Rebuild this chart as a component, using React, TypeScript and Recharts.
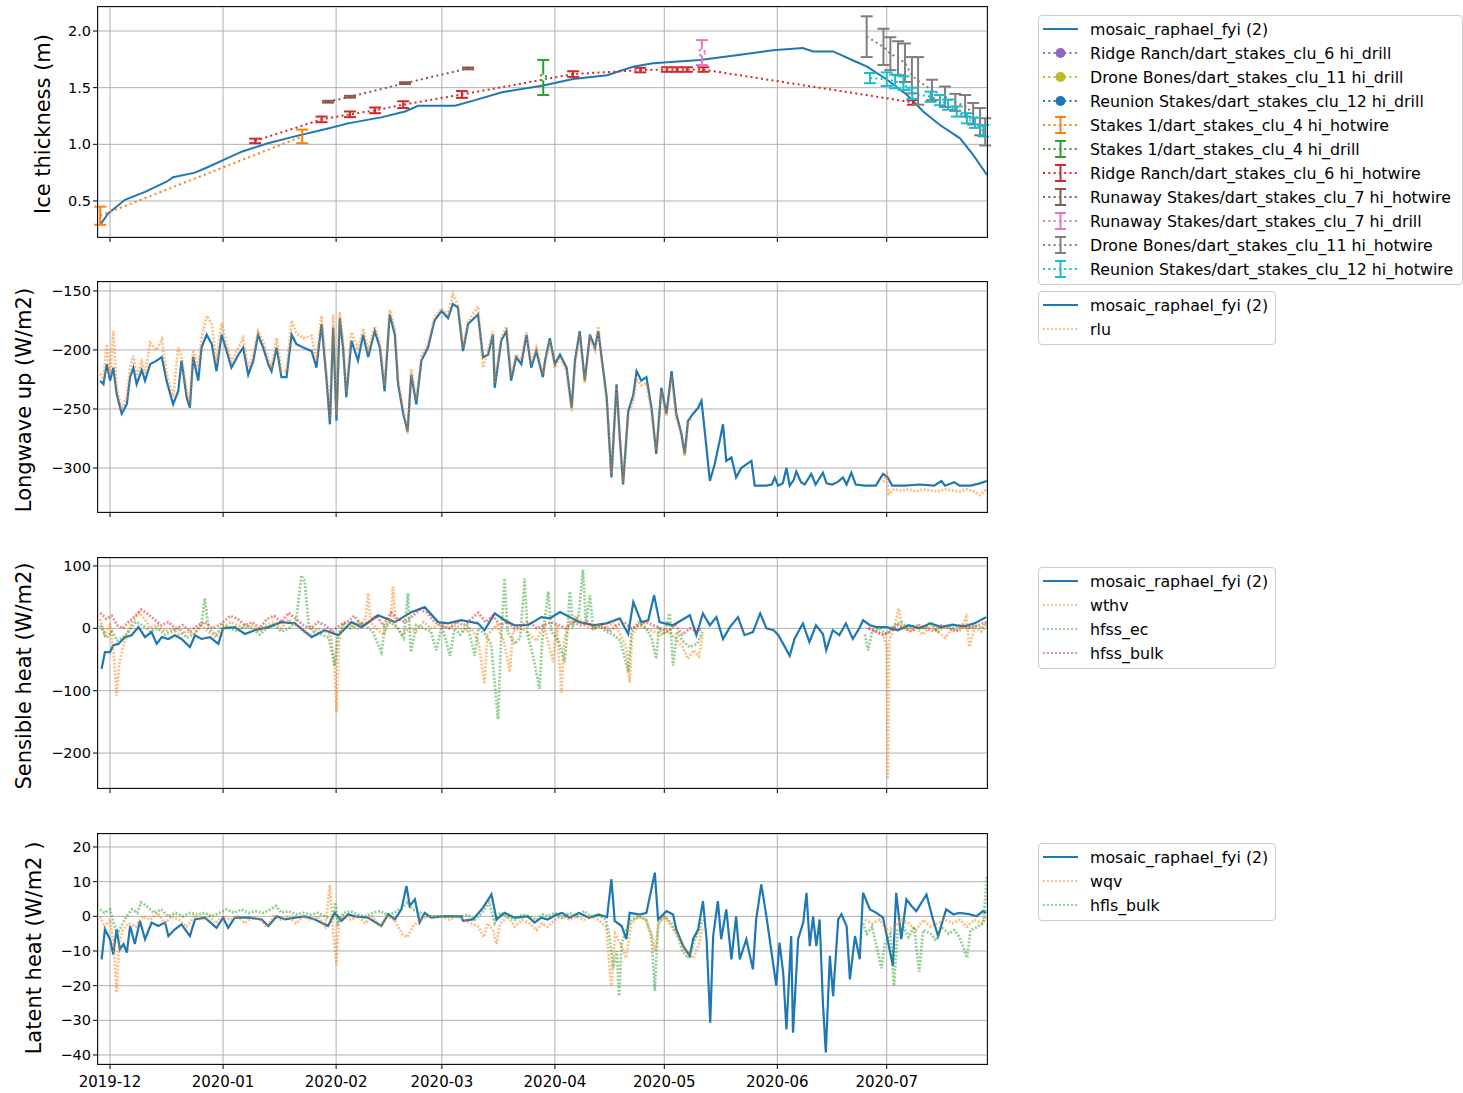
import type { ReactNode } from "react";
import { CartesianGrid, ComposedChart, ErrorBar, Line, XAxis, YAxis } from "recharts";

// x = days since 2019-12-01
type Pt = [number, number | null];
type ErrPt = [number, number, number];

const X_DOMAIN: [number, number] = [-3.3, 240.5];
const MONTH_TICKS = [0, 31, 62, 91, 122, 152, 183, 213];
const MONTH_LABELS = ["2019-12", "2020-01", "2020-02", "2020-03", "2020-04", "2020-05", "2020-06", "2020-07"];

// ---- panel 1: ice thickness (m)
const ICE_MODEL: Pt[] = [
  [-2.7, 0.29], [-0.5, 0.39], [4.1, 0.51], [9.6, 0.58], [15.5, 0.67], [17.3, 0.71], [23.3, 0.75], [26.9, 0.8],
  [31, 0.86], [36.1, 0.935], [43.3, 1.01], [50.7, 1.07], [59.8, 1.14], [65.3, 1.185], [74.6, 1.24], [80.9, 1.29],
  [84.5, 1.34], [94.6, 1.34], [100.1, 1.39], [107.5, 1.46], [118.8, 1.52], [127, 1.576], [136.3, 1.61],
  [143.4, 1.685], [148.9, 1.715], [161.8, 1.744], [172.8, 1.79], [181.8, 1.83], [190, 1.85], [192.8, 1.82],
  [198.3, 1.82], [203.8, 1.74], [207.6, 1.685], [213.1, 1.57], [218.6, 1.435], [223, 1.29], [227.6, 1.17],
  [233.1, 1.053], [236.7, 0.906], [240.5, 0.73],
];
const STAKES1_HOTWIRE: ErrPt[] = [[-2.7, 0.37, 0.08], [52.7, 1.07, 0.06]];
const STAKES1_DRILL: ErrPt[] = [[118.8, 1.59, 0.155]];
const RIDGE_HOTWIRE: ErrPt[] = [
  [39.8, 1.03, 0.02], [58, 1.22, 0.025], [65.8, 1.265, 0.025], [72.7, 1.3, 0.025], [80.4, 1.35, 0.03],
  [96.5, 1.44, 0.03], [127, 1.62, 0.025], [145.4, 1.655, 0.02], [152.7, 1.66, 0.02], [155.4, 1.66, 0.02],
  [158.2, 1.66, 0.02], [162.7, 1.66, 0.02], [220.2, 1.37, 0.02],
];
const RUNAWAY_HOTWIRE: ErrPt[] = [[59.8, 1.376, 0.008], [65.8, 1.42, 0.008], [80.9, 1.54, 0.008], [98.2, 1.67, 0.008]];
const RUNAWAY_DRILL: ErrPt[] = [[162.3, 1.81, 0.11]];
const DRONE_HOTWIRE: ErrPt[] = [
  [207.5, 1.95, 0.18], [212.1, 1.86, 0.16], [214, 1.8, 0.145], [216.1, 1.76, 0.15], [218, 1.72, 0.17],
  [219.9, 1.61, 0.16], [221.6, 1.56, 0.21], [225.4, 1.48, 0.09], [229, 1.42, 0.09], [231.8, 1.37, 0.075],
  [234.5, 1.34, 0.095], [236.7, 1.27, 0.095], [238.6, 1.2, 0.12], [240, 1.11, 0.12],
];
const REUNION_HOTWIRE: ErrPt[] = [
  [208.4, 1.585, 0.045], [213, 1.575, 0.06], [215.3, 1.555, 0.06], [217.6, 1.54, 0.06], [220, 1.45, 0.05],
  [225, 1.42, 0.045], [227.6, 1.39, 0.045], [229.8, 1.35, 0.045], [232.2, 1.29, 0.045], [235, 1.23, 0.045],
  [237.2, 1.19, 0.045], [239.5, 1.12, 0.05],
];

// ---- panel 2: longwave up (W/m2)
const LW_MODEL: Pt[] = [
  [-2.7, -226], [-1.8, -229], [-0.9, -212], [0, -226], [0.9, -215], [1.8, -237], [3.2, -254], [4.6, -246],
  [5.5, -223], [6.4, -215], [7.3, -229], [8.7, -217], [9.6, -226], [11, -212], [12.8, -209], [14.2, -206],
  [15.5, -226], [17.3, -246], [18.7, -235], [19.6, -209], [21, -240], [21.9, -249], [22.8, -206], [24.2, -226],
  [25.1, -198], [26.5, -187], [27.9, -195], [29.2, -218], [30.6, -187], [32, -201], [33.3, -215], [35.2, -204],
  [36.5, -198], [37.9, -221], [39.3, -209], [40.6, -187], [42, -198], [43.4, -212], [44.3, -218], [45.7, -198],
  [47, -223], [48.4, -223], [49.8, -187], [51.1, -195], [53, -198], [55.3, -201], [56.6, -215], [58, -178],
  [59.4, -226], [60.3, -263], [61.2, -181], [62.1, -260], [63, -173], [63.9, -198], [64.8, -240], [66.2, -192],
  [68, -209], [69.4, -187], [70.8, -206], [72.6, -184], [74, -198], [75.3, -235], [76.7, -170], [78.1, -187],
  [79, -229], [80.4, -254], [81.6, -269], [82.6, -221], [84, -246], [85.4, -209], [87.2, -198], [89, -175],
  [90.9, -167], [92.7, -173], [94, -161], [95.4, -164], [96.8, -201], [98.2, -178], [100.9, -170], [102.3, -206],
  [103.7, -204], [105, -187], [105.5, -232], [107.3, -192], [108.7, -184], [110, -226], [111.4, -206],
  [112.8, -212], [114.2, -187], [115.5, -215], [116.9, -201], [118.7, -223], [119.3, -209], [120.6, -190],
  [122, -212], [123.4, -204], [125.2, -215], [126.6, -249], [127.5, -209], [128.8, -184], [130.2, -226],
  [131.6, -187], [133, -198], [133.9, -184], [134.8, -206], [136.2, -240], [137.5, -308], [138.9, -229],
  [139.8, -274], [140.7, -314], [142.1, -252], [143.5, -238], [144.4, -218], [145.7, -226], [147.1, -223],
  [148.5, -249], [149.8, -288], [151.2, -232], [152.6, -254], [154, -218], [155.3, -254], [156.7, -271],
  [157.6, -288], [158.5, -260], [159.9, -254], [161.3, -249], [162.2, -243], [163.1, -269], [164.5, -311],
  [165.8, -297], [167.2, -277], [168.1, -263], [169, -294], [170.4, -291], [171.7, -308], [173.1, -300],
  [174.5, -297], [175.9, -294], [176.8, -315], [180, -315], [181.5, -314], [182.3, -308], [183.2, -315],
  [184.5, -313], [185.5, -300], [186.4, -315], [187.5, -310], [188.2, -303], [189.5, -312], [190.5, -314],
  [192.3, -305], [193.5, -314], [195.5, -304], [196.5, -313], [198, -314], [199.5, -312], [201, -308],
  [202, -314], [203.3, -304], [204.5, -314], [207, -315], [210, -315], [212, -305], [213.3, -308], [214.5, -315],
  [218, -315], [222, -314], [226, -315], [228, -311], [229, -315], [231.5, -312], [233, -315], [236, -315],
  [238.5, -313], [240.5, -311],
];
const RLU: Pt[] = [
  [-2.7, -220], [-1.8, -225], [-0.9, -195], [0, -222], [0.9, -184], [1.8, -232], [3.2, -250], [4.6, -240],
  [5.5, -215], [6.4, -205], [7.3, -222], [8.7, -210], [9.6, -220], [11, -194], [12.8, -200], [14.2, -191],
  [15.5, -220], [17.3, -240], [18.7, -198], [19.6, -205], [21, -235], [21.9, -245], [22.8, -200], [24.2, -215],
  [25.1, -190], [26.5, -171], [27.9, -178], [29.2, -212], [30.6, -177], [32, -195], [33.3, -210], [35.2, -198],
  [36.5, -190], [37.9, -215], [39.3, -204], [40.6, -184], [42, -192], [43.4, -208], [44.3, -214], [45.7, -190],
  [47, -218], [48.4, -218], [49.8, -175], [51.1, -186], [53, -190], [55.3, -188], [56.6, -210], [58, -171],
  [59.4, -222], [60.3, -258], [61.2, -170], [62.1, -255], [63, -168], [63.9, -192], [64.8, -236], [66.2, -185],
  [68, -200], [69.4, -182], [70.8, -200], [72.6, -180], [74, -194], [75.3, -230], [76.7, -166], [78.1, -182],
  [79, -226], [80.4, -250], [81.6, -271], [82.6, -216], [84, -242], [85.4, -205], [87.2, -195], [89, -172],
  [90.9, -165], [92.7, -170], [94, -153], [95.4, -162], [96.8, -198], [98.2, -176], [100.9, -163], [102.3, -215],
  [103.7, -200], [105, -184], [105.5, -228], [107.3, -190], [108.7, -180], [110, -222], [111.4, -204],
  [112.8, -208], [114.2, -185], [115.5, -212], [116.9, -198], [118.7, -220], [120.6, -192], [122, -215],
  [123.4, -206], [125.2, -218], [126.6, -252], [127.5, -212], [128.8, -186], [130.2, -228], [131.6, -190],
  [133, -200], [133.9, -180], [134.8, -208], [136.2, -242], [137.5, -305], [138.9, -232], [139.8, -276],
  [140.7, -312], [142.1, -255], [143.5, -243], [144.4, -225], [145.7, -230], [147.1, -228], [148.5, -252],
  [149.8, -285], [151.2, -235], [152.6, -256], [154, -222], [155.3, -258], [156.7, -272], [157.6, -290],
  [158.5, -262], [159.5, -258], [185, null], [212, -312], [213, -306], [213.5, -322], [215, -318], [217, -319],
  [219, -318], [221, -320], [223, -318], [225, -319], [227, -320], [229, -318], [231, -319], [233, -320],
  [235, -318], [237, -320], [238.5, -323], [240.5, -318],
];

// ---- panel 3: sensible heat (W/m2)
const SENS_MODEL: Pt[] = [
  [-2.3, -65], [-1.4, -38], [0, -38], [0.9, -27], [2.3, -25], [4.1, -14], [5.9, -11], [7.8, 2], [9.6, -14],
  [11.4, -6], [12.8, -25], [14.2, -14], [16, -17], [17.8, -11], [19.6, -17], [21.9, -30], [23.3, -11],
  [25.1, -17], [27.4, -14], [29.7, -25], [31, 0], [34.2, 2], [37, -9], [39.7, -3], [43.4, 2], [47, 10],
  [50.7, 8], [55.3, -14], [58.9, -3], [62.6, -11], [66.2, 10], [69, 2], [73.5, 21], [78.1, 10], [82.6, 26],
  [86.3, 34], [90, 10], [92.7, 8], [96.3, 13], [100.9, 8], [102.7, -3], [105.5, 24], [108.2, 13], [110.9, 5],
  [114.6, 5], [118.3, 18], [120.6, 16], [123.4, 26], [126.1, 18], [128.8, 10], [132.5, 5], [136.2, 8],
  [139.8, 16], [142.1, -9], [143.5, 42], [145.7, 10], [147.6, 13], [149.2, 53], [150.7, 10], [154.4, 5],
  [159, 21], [160.8, -11], [162.6, 24], [164.5, 5], [166.3, 18], [168.1, -17], [170, 2], [172.2, 18],
  [174, -11], [176.3, -6], [178.3, 24], [180, 0], [182, -3], [183.3, -11], [186.4, -44], [187.7, -17],
  [190, 8], [191.8, -22], [193.6, 5], [195.5, -9], [196.4, -35], [198.2, -3], [200, -11], [201.8, 8],
  [203.7, -17], [205.5, 0], [206.5, 13], [208.4, 5], [210.2, 2], [213, 2], [216, -3], [219, 5], [222, 0],
  [225, 8], [228, 2], [231, 6], [234, 3], [237, 8], [240.3, 18],
];
const WTHV: Pt[] = [
  [-2.7, 15], [-1.5, -10], [0, 5], [1, -40], [1.8, -108], [2.5, -60], [3.5, -30], [4.5, -15], [6, 10], [8, 25],
  [9.5, 15], [11, 0], [13, 5], [15, -5], [17, 0], [19, -10], [21, -5], [23, -10], [25, 5], [27, -5], [29, -15],
  [31, 0], [33, 10], [35, 5], [37, 0], [39, 5], [41, -5], [43, 5], [45, 10], [47, 0], [49, 15], [51, 5],
  [53, -5], [55, -10], [57, 0], [59, -5], [60.5, -10], [61.5, -50], [62.1, -135], [62.8, -20], [64, 10],
  [66, 5], [68, 0], [70, 15], [70.8, 56], [71.5, 10], [73, 0], [75, -10], [77, 15], [77.6, 67], [78.3, 5],
  [80, -10], [82, 0], [84, -5], [86, 10], [88, 0], [90, 5], [93, 0], [95, 5], [97, -5], [99, 0], [101, -20],
  [102.7, -89], [103.5, -10], [106, 5], [108, -20], [109.6, -70], [110.5, -5], [113, 0], [115, -10],
  [117, -20], [119, 5], [121.5, -54], [122.5, 5], [123.8, -103], [124.5, -20], [126, 10], [128, 20], [130, 5],
  [132, 0], [134, 5], [136, 0], [138, 10], [140, -10], [141.5, -30], [142.5, -87], [143.2, -10], [145, 5],
  [147, 0], [149, -5], [151, -10], [153, -5], [155, -15], [157, -30], [158.5, -49], [160, -35], [161.5, -45],
  [162.5, -10], [185, null], [208, 0], [210, -5], [212, -10], [213, -30], [213.3, -242], [213.7, -20],
  [215, 0], [216.3, 32], [217, 5], [219, -5], [221, 0], [223, -10], [225, 5], [227, -5], [229, -15], [231, 0],
  [233, -5], [234.8, 18], [235.7, -30], [237, 0], [239, -5], [240.5, 5],
];
const HFSS_EC: Pt[] = [
  [-2.7, 5], [-1, -15], [0.5, -5], [2, -20], [3.5, -15], [5, -5], [7, 10], [9, 5], [11, -5], [13, 0], [15, -10],
  [17, -5], [19, 0], [21, -15], [23, -10], [25, 5], [26, 48], [27, 0], [29, -10], [31, 5], [33, 0], [35, -5],
  [37, 5], [39, 0], [41, -10], [43, 0], [45, 5], [47, -5], [49, 0], [51, 10], [52.5, 85], [53.4, 75],
  [54.5, 5], [56, -5], [58, -10], [60, -15], [61.6, -60], [62.5, -10], [64, 5], [66, 0], [68, 10], [70, 5],
  [72, -5], [74.4, -38], [75.5, 5], [77, 10], [79, 0], [80.5, -15], [81.7, 56], [82.5, -38], [84, 5], [86, 0],
  [88, -5], [89.5, -35], [91, 5], [93.2, -44], [94.5, 0], [96, -10], [98, 5], [100, -44], [101, 0], [103, -10],
  [104.5, -25], [106.4, -146], [107.3, -10], [108.2, 80], [109, -5], [111, -25], [112.5, -15], [113.7, 80],
  [114.5, -10], [116, -44], [117.8, -97], [118.5, -20], [120.2, 59], [121, -5], [123, -20], [124.7, -54],
  [125.5, 0], [126.1, 59], [127, 5], [128.5, 20], [129.7, 94], [130.5, 10], [131.6, 53], [132.5, 0], [134, 5],
  [136, -5], [138, -10], [140, -20], [142.1, -70], [143, -5], [145, 10], [147, 0], [148.5, -15], [149.8, -49],
  [150.5, 0], [152, -10], [153.5, 24], [154.4, -60], [155.5, -5], [157, -20], [159, -30], [161, -25],
  [162.5, -5], [185, null], [207, -10], [207.9, -35], [209, -5], [211, 0], [213, -10], [215, 5], [217, 10],
  [219, 0], [221, 5], [223, 0], [225, 10], [227, -5], [229, 5], [231, 0], [233, 5], [235, 0], [237, 5],
  [239, 0], [240.5, 10],
];
const HFSS_BULK: Pt[] = [
  [-2.7, 25], [-1, 15], [0.5, 20], [2, 5], [3.5, 0], [5, 10], [7, 20], [8.5, 30], [10, 25], [12, 15], [14, 5],
  [16, 10], [18, 0], [20, 5], [22, -5], [24, 5], [26, 10], [28, 0], [30, 5], [31, 10], [33, 20], [35, 15],
  [37, 5], [39, 10], [41, 0], [43, 15], [45, 20], [47, 10], [49, 25], [51, 15], [53, 5], [55, 0], [57, 10],
  [59, 5], [61, -5], [63, 5], [65, 10], [67, 20], [69, 5], [71, 10], [73, 20], [75, 5], [77, 25], [79, 15],
  [81, 10], [83, 20], [85, 30], [87, 25], [89, 10], [91, 5], [93, 0], [95, 10], [97, 5], [99, 15], [101, 25],
  [103, 10], [105, 20], [107, 5], [109, 10], [111, 0], [113, 5], [115, 10], [117, 0], [119, 5], [121, 10],
  [123, 5], [125, 0], [127, 10], [129, 5], [131, 10], [133, 0], [135, 5], [137, -5], [139, 5], [141, 10],
  [143, 0], [145, 5], [147, 10], [149, 5], [151, 0], [153, -5], [155, 5], [157, -10], [159, 0], [161, -5],
  [162.5, 0], [185, null], [208, 0], [210, -5], [212, -10], [214, -5], [216, 5], [218, 0], [220, -5], [222, 5],
  [224, 0], [226, -5], [228, 5], [230, 0], [232, -5], [234, 5], [236, 0], [238, 5], [240.5, 10],
];

// ---- panel 4: latent heat (W/m2)
const LAT_MODEL: Pt[] = [
  [-2.3, -12.4], [-1.4, -3.75], [0, -6.6], [0.9, -11], [1.8, -3.75], [2.7, -9.5], [3.7, -8], [4.6, -10.5],
  [5.5, -2.8], [6.8, -8], [8.2, -1.3], [9.6, -6.6], [11.4, -1.8], [13.2, -2.8], [15.1, -1.8], [16, -5.7],
  [17.8, -3.75], [19.6, -2.3], [21.9, -5.7], [23.3, -0.9], [26, -0.4], [29.2, -3.3], [31, -0.4], [32.4, -3.3],
  [34.2, -0.4], [37.9, -0.4], [41.6, -0.9], [43.4, -2.8], [45.7, 0], [48, -0.9], [50.7, -0.4], [53.4, 0],
  [56.2, -0.9], [59.8, -2.8], [61.6, 1], [63.5, -1.3], [65.3, 0.6], [67.1, 0], [70.8, -0.4], [74.4, -2.8],
  [76.3, 0.6], [78.1, -0.9], [79.9, 2], [81.3, 8.75], [82.2, 3], [83.6, 4.9], [84.9, -1.8], [86.3, 1],
  [88.1, -0.4], [90.9, 0], [96.3, 0], [96.8, -1.3], [99.5, -0.9], [102.3, 2.5], [104.6, 6.3], [106, -0.9],
  [108.2, 1], [110.9, -0.4], [114.6, 0], [116.4, -1.8], [118.3, -0.4], [120, -0.9], [122.5, 0.5], [124, 1],
  [126, -0.4], [128.6, 1], [131.3, -0.4], [134, 0.5], [136.3, -0.2], [137.5, 10.7], [138.4, -1.3],
  [140.3, -2.8], [141.6, -6.6], [142.5, 1], [145.3, 0.5], [147.1, 1], [149.4, 12.6], [150.3, -0.9],
  [152.6, 1.5], [154.4, 0.5], [155.3, -3.75], [157.2, -8.6], [159, -11.4], [159.9, -6.6], [161.3, -3.75],
  [162.6, 4.4], [163.6, -6.6], [164.6, -30.7], [165.4, -5.7], [166.7, 4.4], [167.6, -6.6], [169, 2],
  [170.4, -12.4], [171.7, 0], [172.7, -12.4], [174.5, -6.6], [176.3, -15.3], [177.2, -0.9], [178.6, 9.2],
  [180, 0], [180.9, -6.6], [182.7, -20], [183.6, -7.6], [184.6, -16.2], [185.5, -32.6], [186.8, -5.7],
  [187.3, -33.6], [188.7, -6.6], [190.1, -1.8], [191, 6.8], [191.9, -8.6], [192.8, 0], [193.7, -8.6],
  [194.6, -0.9], [195.5, -25], [196.3, -39.3], [197.4, -11.4], [198.3, -23], [199.7, -0.9], [200.6, 0.6],
  [202, -2.8], [202.9, -18.2], [204.3, -5.7], [205.6, -12.4], [206.5, 6.8], [208.4, 2], [210.2, 1],
  [212, -0.4], [213.4, -7.6], [214.7, -14.3], [215.6, 6.8], [217, -6.6], [218.4, 4.9], [219.8, 3],
  [221.1, 1.5], [223.9, 6.3], [225.7, -0.9], [227.1, -5.7], [229.3, 2], [231.2, 0.6], [233.1, 1],
  [235.8, 0.6], [237.6, 0], [239.4, 1.5], [240.3, 1],
];
const WQV: Pt[] = [
  [-2.7, 0], [-1.5, -3], [0, -1], [1, -8], [1.8, -22], [2.5, -8], [3.5, -4], [5, -2], [7, -3], [9, 0], [11, -1],
  [13, 1], [15, -2], [17, 0], [19, -1], [21, -3], [23, 0], [25, -1], [27, 0], [29, -2], [31, 0], [33, -1],
  [35, 0], [37, -2], [39, 0], [41, -1], [43, -3], [45, 0], [47, -1], [49, 0], [51, -2], [53, 0], [55, -1],
  [57, 0], [59, -3], [60.3, 9], [61, -2], [62.1, -14], [62.8, -1], [64, 0], [66, -1], [68, 0], [70, -2],
  [72, 0], [74, -3], [76, 0], [78, -1], [80, -5], [81.5, -6], [83, -3], [85, -1], [87, 0], [89, 0], [91, 0],
  [93, -1], [95, 0], [97, -1], [99, -2], [101, -3], [102.5, -6], [103.5, -2], [105, -4], [106, -8], [107, -2],
  [109, 0], [111, -3], [113, -1], [115, -2], [117, -4], [118.5, -2], [120, -3], [122, -1], [124, 0], [126, -1],
  [128, 0], [130, -1], [132, 0], [134, -1], [136, -3], [137.5, -20], [138.5, -5], [140, -8], [141.5, -12],
  [143, -2], [145, 0], [147, -1], [148.5, -5], [149.5, -10], [150.5, -2], [152, 0], [154, -3], [156, -6],
  [158, -10], [160, -12], [161.5, -8], [162.5, -3], [185, null], [207, -1], [209, -2], [211, -1], [213, -4],
  [215, -3], [217, -1], [219, -2], [221, -4], [223, -1], [225, -3], [227, -2], [229, -1], [231, -2], [233, -1],
  [235, -3], [237, -1], [239, -2], [240.5, 0],
];
const HFLS_BULK: Pt[] = [
  [-2.7, 2], [-1.5, 1], [0, 2], [1, -2], [2, -5], [3, -3], [4.5, 0], [6, 2], [7.5, 1], [8.5, 4], [10, 3],
  [12, 1], [14, 2], [16, 0], [18, 1], [20, 0], [22, 1], [24, 0.5], [26, 1], [28, 0], [30, 1], [32, 2], [34, 1],
  [36, 2], [38, 1], [40, 1.5], [42, 1], [44, 2], [45.5, 3], [47, 1], [49, 1.5], [51, 0.5], [53, 1], [55, 0.5],
  [57, 1], [59, 0], [61, -1], [61.8, 4], [62.5, -2], [64, 1], [66, 1.5], [68, 0.5], [70, 0], [72, 1],
  [74, 1.5], [76, 0.5], [78, 1], [80, 2.5], [81.5, 4], [83, 2], [85, 1], [87, 0], [89, 0], [91, 0], [93, 0],
  [95, 0], [96.5, 0], [98, 0.5], [100, -1], [102, 1], [104, 4], [105.5, -2], [107, 1], [109, 0], [111, -1],
  [113, 0.5], [115, 0], [117, -1], [118.5, 0.5], [120, 0], [122, 1], [124, -0.5], [126, 1], [128, 0],
  [130, 1.5], [132, 0], [134, 0.5], [136, -1], [137, -6], [138, -15], [139, -10], [139.6, -23], [140.3, -8],
  [141.5, -4], [143, -1], [145, 0], [147, -1], [148.5, -6], [149.4, -21.5], [150.3, -2], [152, 0], [154, -2],
  [155.5, -5], [157, -10], [158.5, -12], [160, -8], [161.5, -4], [162.5, -1], [185, null], [206.5, -2],
  [207.5, -5], [209, -3], [210.5, -10], [211.5, -15], [212.5, -8], [214, -5], [215, -20], [216, -4],
  [217.5, -3], [219, -6], [220.5, -3], [221.9, -16], [223, -4], [225, -5], [226.5, -7], [228, -3], [230, -5],
  [231.5, -4], [233, -6], [235, -12], [236, -4], [238, -3], [239.5, -2], [240.5, 11.6],
];

const C = {
  blue: "#1f77b4", orange: "#ff7f0e", green: "#2ca02c", red: "#d62728", purple: "#9467bd",
  brown: "#8c564b", pink: "#e377c2", gray: "#7f7f7f", olive: "#bcbd22", cyan: "#17becf",
};
const FONT = "'DejaVu Sans', 'Liberation Sans', sans-serif";
const DOT = "2 3.3";

const rows = (pts: Pt[]) => pts.map(([d, v]) => ({ d, v }));
const errRows = (pts: ErrPt[]) => pts.map(([d, v, e]) => ({ d, v, e }));
const minus = (v: number, digits = 0) => (v < 0 ? "\u2212" : "") + Math.abs(v).toFixed(digits);

const PLOT_LEFT = 98;
const PLOT_W = 889;
const PLOT_H = 230;

function Panel({ top, domain, ticks, digits = 0, dates = false, children }: {
  top: number;
  domain: [number, number];
  ticks: number[];
  digits?: number;
  dates?: boolean;
  children: ReactNode;
}) {
  return (
    <>
      <div style={{ position: "absolute", left: 0, top: top - 5 }}>
        <ComposedChart width={1000} height={270} margin={{ top: 5, right: 1000 - PLOT_LEFT - PLOT_W, bottom: 0, left: 38 }}>
          <CartesianGrid stroke="#b0b0b0" strokeWidth={1} />
          <XAxis
            type="number"
            dataKey="d"
            domain={X_DOMAIN}
            ticks={MONTH_TICKS}
            allowDataOverflow
            height={35}
            axisLine={false}
            tickSize={5}
            tickMargin={7}
            tickLine={{ stroke: "#000" }}
            tick={{ fill: "#000", fontSize: 15, fontFamily: FONT }}
            // 上面三张图只留刻度线，日期只在最底下一张
            tickFormatter={(v: number) => (dates ? MONTH_LABELS[MONTH_TICKS.indexOf(v)] ?? "" : "")}
          />
          <YAxis
            type="number"
            domain={domain}
            ticks={ticks}
            allowDataOverflow
            width={60}
            axisLine={false}
            tickSize={5}
            tickLine={{ stroke: "#000" }}
            tick={{ fill: "#000", fontSize: 14.5, fontFamily: FONT }}
            tickFormatter={(v: number) => minus(v, digits)}
          />
          {children}
        </ComposedChart>
      </div>
      <div style={{ position: "absolute", left: PLOT_LEFT - 1, top: top - 1, width: PLOT_W + 2, height: PLOT_H + 2, border: "1px solid #111", boxSizing: "border-box", pointerEvents: "none" }} />
    </>
  );
}

function errSeries(key: string, pts: ErrPt[], color: string) {
  return (
    <Line key={key} data={errRows(pts)} dataKey="v" stroke={color} strokeWidth={2} strokeDasharray={DOT} dot={false} isAnimationActive={false}>
      <ErrorBar dataKey="e" width={6} stroke={color} strokeWidth={2} direction="y" />
    </Line>
  );
}

function solid(key: string, pts: Pt[], width = 2.2) {
  return <Line key={key} data={rows(pts)} dataKey="v" stroke={C.blue} strokeWidth={width} dot={false} isAnimationActive={false} />;
}

function faint(key: string, pts: Pt[], color: string) {
  return (
    <Line key={key} data={rows(pts)} dataKey="v" stroke={color} strokeOpacity={0.5} strokeWidth={2.8} strokeDasharray="2 1.6" dot={false} isAnimationActive={false} />
  );
}

type Handle = "line" | "marker" | "err" | "faint";
interface LegendItem { label: string; color: string; kind: Handle }

function HandleIcon({ kind, color }: { kind: Handle; color: string }) {
  return (
    <svg width={51} height={24} style={{ flex: "none" }}>
      {kind === "line" ? <line x1={4} x2={39} y1={12} y2={12} stroke={color} strokeWidth={2} /> : null}
      {kind === "faint" ? <line x1={4} x2={39} y1={12} y2={12} stroke={color} strokeOpacity={0.5} strokeWidth={2} strokeDasharray="2 2" /> : null}
      {kind === "marker" ? (
        <>
          <line x1={4} x2={39} y1={12} y2={12} stroke={color} strokeWidth={2} strokeDasharray={DOT} />
          <circle cx={21.5} cy={12} r={5} fill={color} />
        </>
      ) : null}
      {kind === "err" ? (
        <>
          <line x1={4} x2={39} y1={12} y2={12} stroke={color} strokeWidth={2} strokeDasharray={DOT} />
          <line x1={21.5} x2={21.5} y1={4} y2={20} stroke={color} strokeWidth={2} />
          <line x1={16} x2={27} y1={4} y2={4} stroke={color} strokeWidth={2} />
          <line x1={16} x2={27} y1={20} y2={20} stroke={color} strokeWidth={2} />
        </>
      ) : null}
    </svg>
  );
}

function LegendBox({ left, top, width, items }: { left: number; top: number; width: number; items: LegendItem[] }) {
  return (
    <div style={{ position: "absolute", left, top, width, boxSizing: "border-box", padding: "1px 0 3px", border: "1px solid #cccccc", borderRadius: 4, background: "#fff", fontFamily: FONT, fontSize: 15.8, color: "#000" }}>
      {items.map((item) => (
        <div key={item.label} style={{ height: 24, display: "flex", alignItems: "center", whiteSpace: "nowrap" }}>
          <HandleIcon kind={item.kind} color={item.color} />
          <span>{item.label}</span>
        </div>
      ))}
    </div>
  );
}

const MODEL_LABEL = "mosaic_raphael_fyi (2)";
const ICE_LEGEND: LegendItem[] = [
  { label: MODEL_LABEL, color: C.blue, kind: "line" },
  { label: "Ridge Ranch/dart_stakes_clu_6 hi_drill", color: C.purple, kind: "marker" },
  { label: "Drone Bones/dart_stakes_clu_11 hi_drill", color: C.olive, kind: "marker" },
  { label: "Reunion Stakes/dart_stakes_clu_12 hi_drill", color: C.blue, kind: "marker" },
  { label: "Stakes 1/dart_stakes_clu_4 hi_hotwire", color: C.orange, kind: "err" },
  { label: "Stakes 1/dart_stakes_clu_4 hi_drill", color: C.green, kind: "err" },
  { label: "Ridge Ranch/dart_stakes_clu_6 hi_hotwire", color: C.red, kind: "err" },
  { label: "Runaway Stakes/dart_stakes_clu_7 hi_hotwire", color: C.brown, kind: "err" },
  { label: "Runaway Stakes/dart_stakes_clu_7 hi_drill", color: C.pink, kind: "err" },
  { label: "Drone Bones/dart_stakes_clu_11 hi_hotwire", color: C.gray, kind: "err" },
  { label: "Reunion Stakes/dart_stakes_clu_12 hi_hotwire", color: C.cyan, kind: "err" },
];
const LW_LEGEND: LegendItem[] = [
  { label: MODEL_LABEL, color: C.blue, kind: "line" },
  { label: "rlu", color: C.orange, kind: "faint" },
];
const SENS_LEGEND: LegendItem[] = [
  { label: MODEL_LABEL, color: C.blue, kind: "line" },
  { label: "wthv", color: C.orange, kind: "faint" },
  { label: "hfss_ec", color: C.green, kind: "faint" },
  { label: "hfss_bulk", color: C.red, kind: "faint" },
];
const LAT_LEGEND: LegendItem[] = [
  { label: MODEL_LABEL, color: C.blue, kind: "line" },
  { label: "wqv", color: C.orange, kind: "faint" },
  { label: "hfls_bulk", color: C.green, kind: "faint" },
];

function YLabel({ x, y, text }: { x: number; y: number; text: string }) {
  return (
    <div style={{ position: "absolute", left: x, top: y, transform: "translate(-50%, -50%) rotate(-90deg)", whiteSpace: "nowrap", fontFamily: FONT, fontSize: 21, color: "#000" }}>
      {text}
    </div>
  );
}

export default function App() {
  return (
    <div style={{ position: "absolute", left: 0, top: 0, width: 1463, height: 1093, background: "#fff", overflow: "hidden" }}>
      <Panel top={7} domain={[0.182, 2.212]} ticks={[0.5, 1, 1.5, 2]} digits={1}>
        {solid("ice", ICE_MODEL, 2)}
        {errSeries("s1h", STAKES1_HOTWIRE, C.orange)}
        {errSeries("s1d", STAKES1_DRILL, C.green)}
        {errSeries("rrh", RIDGE_HOTWIRE, C.red)}
        {errSeries("rsh", RUNAWAY_HOTWIRE, C.brown)}
        {errSeries("rsd", RUNAWAY_DRILL, C.pink)}
        {errSeries("dbh", DRONE_HOTWIRE, C.gray)}
        {errSeries("ruh", REUNION_HOTWIRE, C.cyan)}
      </Panel>
      <Panel top={282} domain={[-337.3, -142.4]} ticks={[-300, -250, -200, -150]}>
        {solid("lw", LW_MODEL)}
        {faint("rlu", RLU, C.orange)}
      </Panel>
      <Panel top={558} domain={[-256, 112.8]} ticks={[-200, -100, 0, 100]}>
        {solid("sens", SENS_MODEL)}
        {faint("wthv", WTHV, C.orange)}
        {faint("ec", HFSS_EC, C.green)}
        {faint("bulk", HFSS_BULK, C.red)}
      </Panel>
      <Panel top={834} domain={[-42.6, 23.75]} ticks={[-40, -30, -20, -10, 0, 10, 20]} dates>
        {solid("lat", LAT_MODEL)}
        {faint("wqv", WQV, C.orange)}
        {faint("hfls", HFLS_BULK, C.green)}
      </Panel>

      <YLabel x={43} y={124} text="Ice thickness (m)" />
      <YLabel x={24} y={400} text="Longwave up (W/m2)" />
      <YLabel x={24} y={676} text="Sensible heat (W/m2)" />
      <YLabel x={34} y={948} text="Latent heat (W/m2 )" />

      <LegendBox left={1038} top={15} width={425} items={ICE_LEGEND} />
      <LegendBox left={1038} top={291} width={238} items={LW_LEGEND} />
      <LegendBox left={1038} top={567} width={238} items={SENS_LEGEND} />
      <LegendBox left={1038} top={843} width={238} items={LAT_LEGEND} />
    </div>
  );
}
